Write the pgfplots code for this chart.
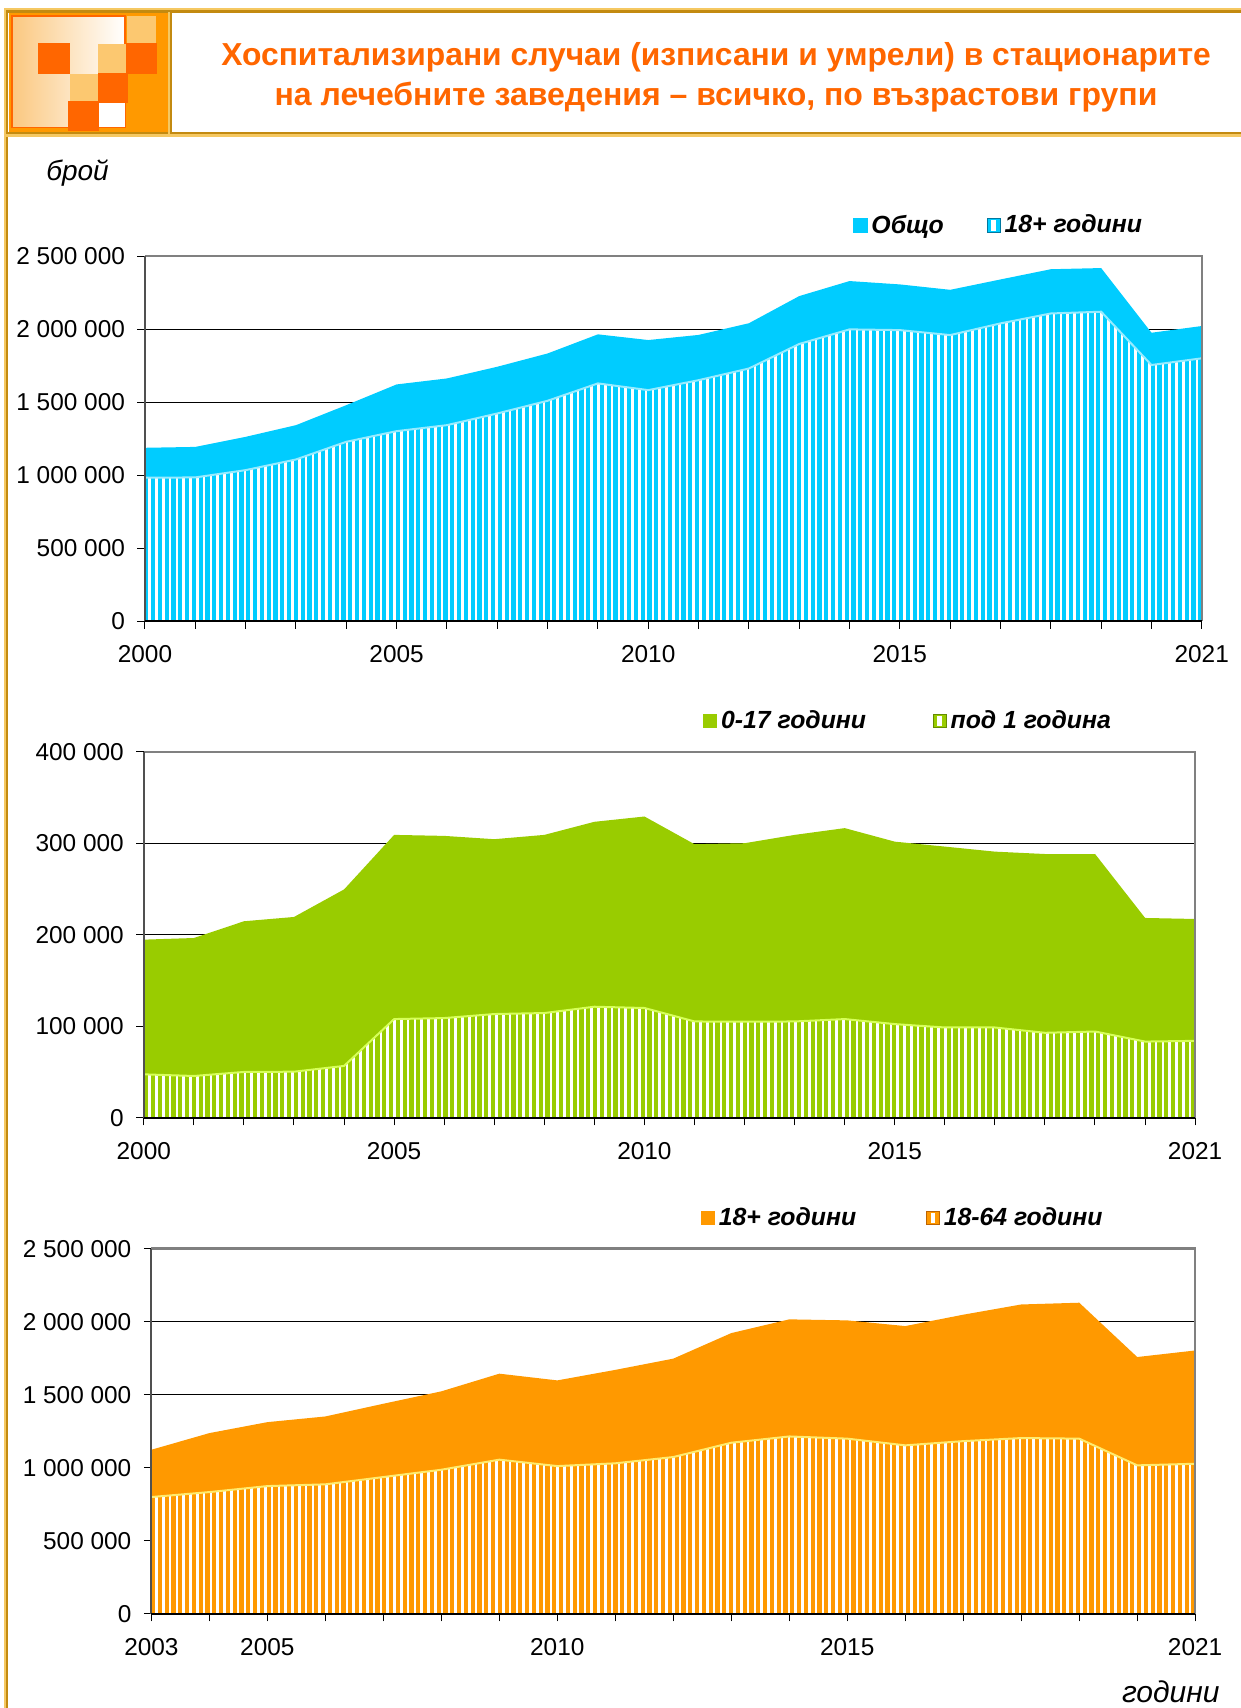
\documentclass[border=0pt]{standalone}
\usepackage{fontspec}
\setmainfont{Liberation Sans}
\usepackage{pgfplots}
\usepackage{pgfplotstable}
\pgfplotsset{compat=1.18}
\usetikzlibrary{patterns.meta}

\definecolor{cyanA}{RGB}{0,204,255}
\definecolor{cyanD}{RGB}{0,120,160}
\definecolor{cyanE}{RGB}{150,235,255}
\definecolor{greenA}{RGB}{153,204,0}
\definecolor{greenD}{RGB}{100,140,0}
\definecolor{greenE}{RGB}{215,255,90}
\definecolor{orangeA}{RGB}{255,153,0}
\definecolor{orangeD}{RGB}{190,100,0}
\definecolor{orangeE}{RGB}{255,235,110}
\definecolor{titleC}{RGB}{255,102,0}
\definecolor{goldD}{RGB}{195,138,16}
\definecolor{goldL}{RGB}{245,200,98}
\definecolor{logoL}{RGB}{252,200,112}
\definecolor{peach}{RGB}{251,200,128}
\definecolor{frameG}{RGB}{128,128,128}
\definecolor{axisG}{RGB}{80,80,80}

\pgfplotstableread{
year tot adult
2000 1187000 982000
2001 1193000 984000
2002 1262000 1034000
2003 1342000 1107000
2004 1479000 1228000
2005 1621000 1301000
2006 1662000 1342000
2007 1742000 1422000
2008 1833000 1509000
2009 1964000 1628000
2010 1925000 1582000
2011 1960000 1650000
2012 2040000 1730000
2013 2226000 1898000
2014 2329000 1998000
2015 2306000 1993000
2016 2269000 1959000
2017 2340000 2039000
2018 2410000 2107000
2019 2418000 2119000
2020 1975000 1754000
2021 2021000 1800000
}\tabtop

\pgfplotstableread{
year kids infant
2000 194800 47600
2001 196600 45800
2002 214900 50200
2003 219600 50500
2004 249700 56800
2005 309300 108000
2006 308200 109100
2007 304600 113500
2008 309300 114600
2009 323600 121500
2010 329400 120100
2011 299100 105400
2012 300200 105100
2013 309300 105400
2014 316700 108000
2015 301900 102500
2016 296500 98800
2017 291000 98800
2018 288400 93000
2019 288400 94400
2020 218500 83400
2021 217400 84200
}\tabmid

\pgfplotstableread{
year adult working
2003 1123000 799000
2004 1237000 833000
2005 1312000 874000
2006 1351000 886000
2007 1438000 936000
2008 1523000 986000
2009 1644000 1055000
2010 1598000 1011000
2011 1670000 1030000
2012 1747000 1073000
2013 1922000 1171000
2014 2016000 1214000
2015 2009000 1199000
2016 1970000 1153000
2017 2048000 1182000
2018 2118000 1203000
2019 2130000 1199000
2020 1758000 1016000
2021 1803000 1027000
}\tabbot

\pgfplotsset{
  myax/.style={
    scale only axis,
    ymin=0,
    clip mode=individual,
    axis line style={draw=none},
    xtick pos=bottom, ytick pos=left,
    tick align=outside,
    major tick length=3.8pt,
    tick style={black, line width=0.5pt},
    ymajorgrids,
    major grid style={black, line width=0.5pt},
    scaled y ticks=false,
    scaled x ticks=false,
    tick label style={font=\fontsize{12.2}{14}\selectfont},
    xticklabel style={yshift=-5pt},
    yticklabel style={xshift=-2.7pt},
    legend style={draw=none, fill=none, legend columns=-1, anchor=west, inner sep=0pt,
      font=\bfseries\itshape\fontsize{12.4}{14}\selectfont},
    legend cell align=left,
  },
  stripes/.style={draw=none, fill=#1,
    postaction={pattern={Lines[angle=90,distance=3.4pt,line width=1.3pt]}, pattern color=white}},
}
\newcommand{\axisframe}{%
  \draw[frameG, line width=1.2pt] (rel axis cs:0,1) -- (rel axis cs:1,1) -- (rel axis cs:1,0);
  \draw[axisG, line width=0.9pt] (rel axis cs:0,0) -- (rel axis cs:0,1);
  \draw[black, line width=0.9pt] (rel axis cs:0,0) -- (rel axis cs:1,0);
}

\begin{document}
\begin{tikzpicture}
\path[use as bounding box] (0,0) rectangle (620.5pt,854pt);

% ---- frame ----
\fill[goldL] (2pt,0) rectangle (3pt,850pt);
\fill[goldD] (3pt,0) rectangle (4pt,849pt);
\fill[goldL] (2pt,848.85pt) rectangle (620.5pt,849.85pt);
\fill[goldD] (3pt,847.65pt) rectangle (620.5pt,848.85pt);
\fill[goldD] (3pt,786.85pt) rectangle (620.5pt,788.15pt);
\fill[goldL] (3pt,785.35pt) rectangle (620.5pt,786.85pt);

% ---- logo ----
\fill[orangeA] (4.5pt,788.15pt) rectangle (84pt,847.65pt);
\shade[left color=peach, right color=white] (6pt,790.35pt) rectangle (62.5pt,846pt);
\draw[titleC, line width=0.6pt] (6pt,790.35pt) rectangle (62.5pt,846pt);
\fill[logoL] (63.35pt,832.35pt) rectangle (78pt,846.15pt);
\fill[titleC] (19.15pt,817pt) rectangle (35pt,832.35pt);
\fill[logoL] (48.85pt,817.65pt) rectangle (63pt,831.85pt);
\fill[titleC] (63pt,817pt) rectangle (78.35pt,832.35pt);
\fill[logoL] (35pt,803.5pt) rectangle (48.85pt,817pt);
\fill[titleC] (48.85pt,802.65pt) rectangle (63.85pt,817.65pt);
\fill[titleC] (34.15pt,788.65pt) rectangle (49.5pt,803.5pt);
\fill[white] (49.5pt,790.35pt) rectangle (62.5pt,802.65pt);
\fill[goldL] (83.85pt,787pt) rectangle (85pt,848pt);
\fill[goldD] (85pt,787pt) rectangle (85.85pt,848pt);

% ---- titles ----
\node[titleC, font=\bfseries\fontsize{15.9}{20}\selectfont, inner sep=0pt] at (358pt,825.6pt)
  {Хоспитализирани случаи (изписани и умрели) в стационарите};
\node[titleC, font=\bfseries\fontsize{16}{20}\selectfont, inner sep=0pt] at (358pt,805.4pt)
  {на лечебните заведения – всичко, по възрастови групи};
\node[anchor=west, font=\itshape\fontsize{14}{16}\selectfont] at (19.6pt,767.3pt) {брой};
\node[anchor=east, inner sep=0pt, font=\itshape\fontsize{15}{17}\selectfont] at (610pt,8pt) {години};

% ---- top chart ----
\begin{axis}[myax,
  at={(72.5pt,543.45pt)}, anchor=south west,
  width=528.4pt, height=182.5pt,
  xmin=2000, xmax=2021, ymax=2500000,
  xtick={2000,...,2021},
  xticklabels={2000,,,,,2005,,,,,2010,,,,,2015,,,,,,2021},
  ytick={0,500000,1000000,1500000,2000000,2500000},
  yticklabels={0,500 000,1 000 000,1 500 000,2 000 000,2 500 000},
  legend style={at={(0.67,1.084)}, /tikz/every even column/.append style={column sep=19.4pt}},
]
\addlegendimage{legend image code/.code={\fill[cyanA] (0pt,-3.3pt) rectangle (6.6pt,3.3pt);}}
\addlegendentry{Общо}
\addlegendimage{legend image code/.code={\fill[cyanA] (0pt,-3.3pt) rectangle (6.6pt,3.3pt);
  \fill[white] (2.4pt,-2.3pt) rectangle (4.2pt,2.3pt);
  \draw[cyanD, line width=0.4pt] (0pt,-3.3pt) rectangle (6.6pt,3.3pt);}}
\addlegendentry{18+ години}
\addplot[fill=cyanA, draw=none, forget plot] table[x=year, y=tot] {\tabtop} \closedcycle;
\addplot[stripes=cyanA, forget plot] table[x=year, y=adult] {\tabtop} \closedcycle;
\addplot[cyanE, line width=1pt, forget plot] table[x=year, y=adult] {\tabtop};
\axisframe
\end{axis}

% ---- middle chart ----
\begin{axis}[myax,
  at={(71.9pt,295.05pt)}, anchor=south west,
  width=525.7pt, height=183pt,
  xmin=2000, xmax=2021, ymax=400000,
  xtick={2000,...,2021},
  xticklabels={2000,,,,,2005,,,,,2010,,,,,2015,,,,,,2021},
  ytick={0,100000,200000,300000,400000},
  yticklabels={0,100 000,200 000,300 000,400 000},
  legend style={at={(0.5316,1.084)}, /tikz/every even column/.append style={column sep=31.3pt}},
]
\addlegendimage{legend image code/.code={\fill[greenA] (0pt,-3.3pt) rectangle (6.6pt,3.3pt);}}
\addlegendentry{0-17 години}
\addlegendimage{legend image code/.code={\fill[greenA] (0pt,-3.3pt) rectangle (6.6pt,3.3pt);
  \fill[white] (2.4pt,-2.3pt) rectangle (4.2pt,2.3pt);
  \draw[greenD, line width=0.4pt] (0pt,-3.3pt) rectangle (6.6pt,3.3pt);}}
\addlegendentry{под 1 година}
\addplot[fill=greenA, draw=none, forget plot] table[x=year, y=kids] {\tabmid} \closedcycle;
\addplot[stripes=greenA, forget plot] table[x=year, y=infant] {\tabmid} \closedcycle;
\addplot[greenE, line width=1pt, forget plot] table[x=year, y=infant] {\tabmid};
\axisframe
\end{axis}

% ---- bottom chart ----
\begin{axis}[myax,
  at={(75.7pt,47.15pt)}, anchor=south west,
  width=521.9pt, height=182.5pt,
  xmin=2003, xmax=2021, ymax=2500000,
  xtick={2003,...,2021},
  xticklabels={2003,,2005,,,,,2010,,,,,2015,,,,,,2021},
  ytick={0,500000,1000000,1500000,2000000,2500000},
  yticklabels={0,500 000,1 000 000,1 500 000,2 000 000,2 500 000},
  legend style={at={(0.526,1.084)}, /tikz/every even column/.append style={column sep=32.8pt}},
]
\addlegendimage{legend image code/.code={\fill[orangeA] (0pt,-3.3pt) rectangle (6.6pt,3.3pt);}}
\addlegendentry{18+ години}
\addlegendimage{legend image code/.code={\fill[orangeA] (0pt,-3.3pt) rectangle (6.6pt,3.3pt);
  \fill[white] (2.4pt,-2.3pt) rectangle (4.2pt,2.3pt);
  \draw[orangeD, line width=0.4pt] (0pt,-3.3pt) rectangle (6.6pt,3.3pt);}}
\addlegendentry{18-64 години}
\addplot[fill=orangeA, draw=none, forget plot] table[x=year, y=adult] {\tabbot} \closedcycle;
\addplot[stripes=orangeA, forget plot] table[x=year, y=working] {\tabbot} \closedcycle;
\addplot[orangeE, line width=1pt, forget plot] table[x=year, y=working] {\tabbot};
\axisframe
\end{axis}
\end{tikzpicture}
\end{document}
